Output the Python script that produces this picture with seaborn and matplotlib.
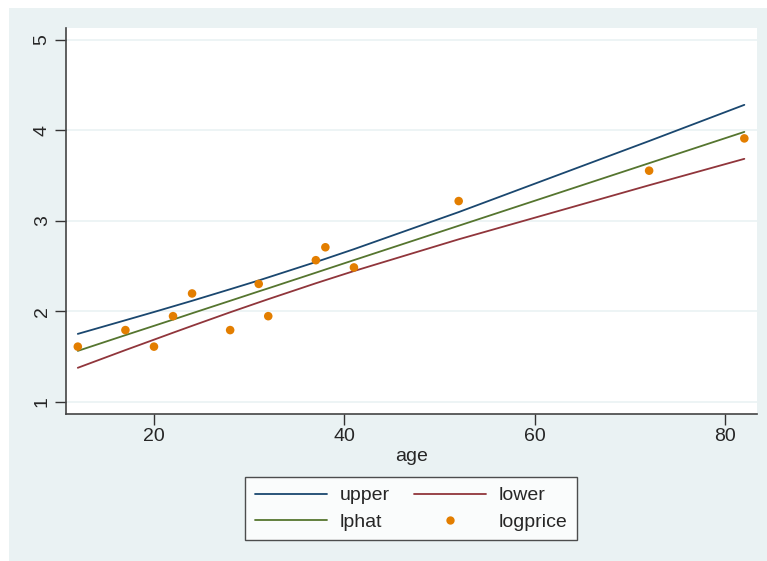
import numpy as np
import pandas as pd
import matplotlib
matplotlib.use("Agg")
import matplotlib.pyplot as plt
import seaborn as sns
from matplotlib.patches import Rectangle
from matplotlib.lines import Line2D

# values
age = [12, 17, 20, 22, 24, 28, 31, 32, 37, 38, 41, 52, 72, 82]
logprice = [1.609, 1.792, 1.609, 1.946, 2.197, 1.792, 2.303, 1.946,
            2.565, 2.708, 2.485, 3.219, 3.555, 3.912]
lphat = [1.562, 1.736, 1.839, 1.908, 1.978, 2.116, 2.220, 2.254,
         2.427, 2.462, 2.566, 2.946, 3.638, 3.984]
upper = [1.750, 1.901, 1.992, 2.054, 2.116, 2.244, 2.341, 2.375,
         2.545, 2.580, 2.687, 3.097, 3.883, 4.283]
lower = [1.375, 1.571, 1.686, 1.763, 1.839, 1.989, 2.098, 2.134,
         2.310, 2.344, 2.445, 2.796, 3.394, 3.686]

df = pd.DataFrame({"age": age, "logprice": logprice, "lphat": lphat,
                   "upper": upper, "lower": lower})

sns.set_theme(style="white")
plt.rcParams["font.family"] = ["Liberation Sans", "DejaVu Sans"]

NAVY, MAROON, GREEN, ORANGE = "#1a476f", "#90353b", "#55752f", "#e37e00"
BG = "#eaf2f3"
FS = 14

fig = plt.figure(figsize=(7.67, 5.61), dpi=100)
fig.patch.set_facecolor("white")
fig.patches.append(Rectangle((9 / 767, 0), 1, 1 - 8 / 561, transform=fig.transFigure,
                             facecolor=BG, edgecolor="none", zorder=-10))

ax = fig.add_axes([66 / 767, 1 - 414 / 561, 691 / 767, 386 / 561])
ax.set_facecolor("white")

for y in [1, 2, 3, 4, 5]:
    ax.axhline(y, color=BG, lw=1.2, zorder=0)

sns.lineplot(data=df, x="age", y="upper", color=NAVY, lw=1.3, ax=ax, sort=False)
sns.lineplot(data=df, x="age", y="lower", color=MAROON, lw=1.3, ax=ax, sort=False)
sns.lineplot(data=df, x="age", y="lphat", color=GREEN, lw=1.3, ax=ax, sort=False)
sns.scatterplot(data=df, x="age", y="logprice", color=ORANGE, s=38,
                edgecolor="none", ax=ax, zorder=5)

ax.set_xlim(10.76, 83.33)
ax.set_ylim(0.864, 5.133)
ax.set_xticks([20, 40, 60, 80])
ax.set_yticks([1, 2, 3, 4, 5])
ax.set_xlabel("age", fontsize=FS, labelpad=2)
ax.set_ylabel("")
ax.tick_params(axis="both", labelsize=FS, length=8, width=1, color="#333333",
               direction="out", bottom=True, left=True)
ax.tick_params(axis="x", pad=2)
ax.tick_params(axis="y", pad=3)
for lab in ax.get_yticklabels():
    lab.set_rotation(90)
    lab.set_va("center")

for side in ["top", "right"]:
    ax.spines[side].set_visible(False)
for side in ["left", "bottom"]:
    ax.spines[side].set_color("#444444")
    ax.spines[side].set_linewidth(1.2)

handles = [
    Line2D([], [], color=NAVY, lw=1.3),
    Line2D([], [], color=GREEN, lw=1.3),
    Line2D([], [], color=MAROON, lw=1.3),
    Line2D([], [], color=ORANGE, lw=0, marker="o", markersize=6, markeredgewidth=0),
]
labels = ["upper", "lphat", "lower", "logprice"]
leg = fig.legend(handles, labels, ncol=2, loc="upper left",
                 bbox_to_anchor=(245 / 767, 1 - 477 / 561), fontsize=FS,
                 frameon=True, fancybox=False, edgecolor="#222222",
                 handlelength=3.7, handletextpad=0.65, columnspacing=1.25,
                 labelspacing=0.45, borderpad=0.5, borderaxespad=0)
leg.get_frame().set_linewidth(1.0)
leg.get_frame().set_facecolor("white")

fig.savefig("out.png", dpi=100, facecolor=fig.get_facecolor())
